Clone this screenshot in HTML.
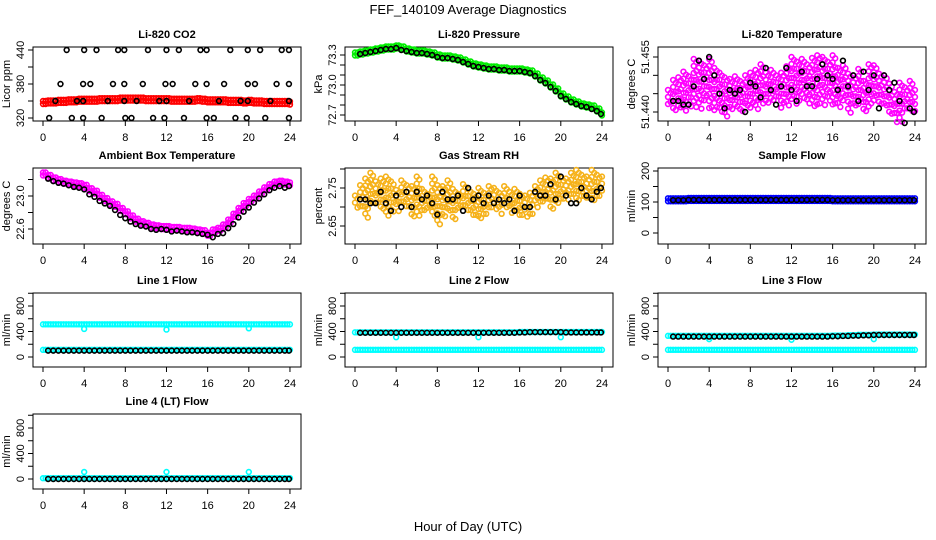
<!DOCTYPE html>
<html><head><meta charset="utf-8"><style>
body{margin:0;background:#fff}
svg{display:block;font-family:"Liberation Sans",Arial,sans-serif}
</style></head><body>
<svg id="chart" width="936" height="540" viewBox="0 0 936 540" xmlns="http://www.w3.org/2000/svg">
<rect width="936" height="540" fill="#fff"/>
<text x="468" y="14" font-size="13" text-anchor="middle">FEF_140109  Average Diagnostics</text>
<text x="468" y="531" font-size="13" text-anchor="middle">Hour of Day (UTC)</text>
</svg>
<script>
// ---- data ----
const xTicks = [0,4,8,12,16,20,24];
const hours = [0,0.5,1,1.5,2,2.5,3,3.5,4,4.5,5,5.5,6,6.5,7,7.5,8,8.5,9,9.5,10,10.5,11,11.5,12,12.5,13,13.5,14,14.5,15,15.5,16,16.5,17,17.5,18,18.5,19,19.5,20,20.5,21,21.5,22,22.5,23,23.5,24];
const blackHours = [0.5,1,1.5,2,2.5,3,3.5,4,4.5,5,5.5,6,6.5,7,7.5,8,8.5,9,9.5,10,10.5,11,11.5,12,12.5,13,13.5,14,14.5,15,15.5,16,16.5,17,17.5,18,18.5,19,19.5,20,20.5,21,21.5,22,22.5,23,23.5,23.9];

const co2Red = [347,348,348,349,349,350,350,351,351,351,351,352,352,352,352,353,353,353,353,353,352,352,352,352,352,351,351,351,351,351,352,351,350,350,350,350,349,349,349,348,349,348,348,347,347,347,347,347,346];
const co2BlackHours = [2.3,4.0,5.2,7.3,7.9,10.2,12.0,13.2,15.3,15.9,18.2,19.9,21.1,23.2,23.9, 1.7,3.9,4.6,6.8,7.9,9.7,11.9,12.6,14.8,15.9,17.6,19.9,20.6,22.7,23.9, 1.2,3.3,3.9,6.3,7.9,9.1,11.3,12.0,14.2,17.1,19.2,19.9,22.1,23.9, 0.6,2.8,3.9,5.7,8.0,8.6,10.7,11.8,13.7,15.9,16.6,18.7,19.8,21.6,23.9];
const co2BlackVals = [440,440,440,440,440,440,440,440,440,440,440,440,440,440,440, 380,380,380,380,380,380,380,380,380,380,380,380,380,380,380, 350,350,350,350,350,350,350,350,350,350,350,350,350,350, 320,320,320,320,320,320,320,320,320,320,320,320,320,320,320];

const presGreen = [73.30,73.31,73.32,73.33,73.34,73.35,73.36,73.36,73.37,73.36,73.34,73.33,73.32,73.32,73.31,73.30,73.28,73.27,73.27,73.26,73.25,73.23,73.21,73.19,73.18,73.17,73.16,73.16,73.15,73.15,73.14,73.14,73.14,73.13,73.12,73.09,73.05,73.02,72.98,72.94,72.89,72.86,72.83,72.81,72.79,72.78,72.77,72.74,72.70];
const presBlack = [73.31,73.32,73.33,73.34,73.35,73.36,73.36,73.37,73.35,73.34,73.33,73.32,73.32,73.31,73.30,73.28,73.27,73.27,73.26,73.25,73.23,73.21,73.19,73.18,73.17,73.16,73.16,73.15,73.15,73.14,73.14,73.14,73.13,73.12,73.09,73.05,73.02,72.98,72.94,72.89,72.86,72.83,72.81,72.79,72.78,72.76,72.74,72.71];

const tempMagLo = [51.442,51.440,51.441,51.440,51.441,51.442,51.441,51.443,51.441,51.440,51.440,51.439,51.440,51.441,51.440,51.442,51.441,51.441,51.442,51.443,51.442,51.443,51.441,51.442,51.443,51.442,51.444,51.443,51.442,51.441,51.442,51.443,51.441,51.442,51.443,51.440,51.441,51.442,51.440,51.441,51.443,51.441,51.442,51.439,51.438,51.438,51.440,51.441,51.440];
const tempMagHi = [51.446,51.449,51.450,51.451,51.450,51.455,51.454,51.453,51.455,51.452,51.451,51.450,51.449,51.450,51.449,51.450,51.451,51.452,51.453,51.451,51.452,51.450,51.451,51.453,51.455,51.454,51.455,51.453,51.455,51.456,51.455,51.454,51.456,51.452,51.453,51.451,51.450,51.452,51.449,51.453,51.453,51.451,51.450,51.448,51.446,51.448,51.447,51.449,51.446];
const tempBlack = [51.443,51.443,51.442,51.442,51.447,51.454,51.449,51.455,51.450,51.445,51.441,51.446,51.445,51.446,51.440,51.448,51.447,51.444,51.452,51.446,51.442,51.447,51.452,51.446,51.443,51.451,51.447,51.447,51.449,51.453,51.450,51.449,51.446,51.454,51.447,51.450,51.443,51.451,51.446,51.450,51.441,51.450,51.446,51.448,51.443,51.437,51.441,51.440];

const ambMag = [23.25,23.22,23.19,23.17,23.15,23.14,23.13,23.12,23.10,23.06,23.03,22.98,22.94,22.90,22.87,22.82,22.78,22.73,22.69,22.66,22.64,22.62,22.61,22.60,22.60,22.59,22.59,22.58,22.58,22.57,22.56,22.55,22.52,22.56,22.58,22.62,22.68,22.75,22.82,22.88,22.93,22.97,23.02,23.07,23.11,23.14,23.15,23.14,23.13];
const ambBlack = [23.21,23.18,23.16,23.15,23.13,23.11,23.10,23.08,23.02,22.99,22.94,22.91,22.88,22.83,22.77,22.73,22.69,22.66,22.64,22.63,22.60,22.59,22.60,22.59,22.57,22.58,22.57,22.56,22.56,22.55,22.54,22.53,22.50,22.54,22.55,22.61,22.66,22.74,22.81,22.86,22.92,22.97,23.02,23.07,23.10,23.12,23.10,23.12];

const rhLo = [2.70,2.69,2.68,2.70,2.70,2.69,2.68,2.69,2.69,2.70,2.69,2.68,2.68,2.69,2.69,2.68,2.66,2.67,2.68,2.67,2.69,2.70,2.69,2.67,2.66,2.68,2.69,2.70,2.69,2.70,2.69,2.68,2.67,2.68,2.67,2.70,2.71,2.71,2.70,2.70,2.71,2.72,2.72,2.71,2.72,2.72,2.71,2.72,2.73];
const rhHi = [2.73,2.76,2.78,2.79,2.77,2.78,2.78,2.77,2.75,2.77,2.76,2.76,2.78,2.75,2.74,2.78,2.76,2.76,2.77,2.75,2.74,2.76,2.75,2.74,2.75,2.74,2.76,2.75,2.74,2.76,2.74,2.75,2.74,2.73,2.74,2.76,2.77,2.78,2.78,2.79,2.78,2.78,2.79,2.80,2.79,2.78,2.80,2.79,2.78];
const rhBlack = [2.72,2.72,2.71,2.71,2.74,2.71,2.69,2.73,2.70,2.74,2.70,2.74,2.72,2.73,2.71,2.68,2.74,2.72,2.72,2.73,2.69,2.75,2.72,2.73,2.71,2.73,2.71,2.72,2.71,2.72,2.69,2.73,2.70,2.70,2.74,2.73,2.73,2.76,2.72,2.78,2.73,2.71,2.71,2.75,2.73,2.72,2.74,2.75];

const sampleBlue = [106,106,106,106,107,107,107,107,107,107,107,107,107,107,107,107,107,107,107,107,107,107,107,107,107,107,107,107,107,107,107,107,106,106,106,106,106,106,106,106,106,106,106,106,106,106,106,106,106];
const sampleBlack = [106,106,106,107,107,107,107,107,107,107,107,107,107,107,107,107,107,107,107,107,107,107,107,107,107,107,107,107,107,107,107,106,106,106,106,106,106,106,106,106,106,106,106,106,106,106,106,106];

const line1CyanHigh = [500,500,500,500,500,500,500,500,500,500,500,500,500,500,500,500,500,500,500,500,500,500,500,500,500,500,500,500,500,500,500,500,500,500,500,500,500,500,500,500,500,500,500,500,500,500,500,500,500];
const line1CyanLow = [100,100,100,100,100,100,100,100,100,100,100,100,100,100,100,100,100,100,100,100,100,100,100,100,100,100,100,100,100,100,100,100,100,100,100,100,100,100,100,100,100,100,100,100,100,100,100,100,100];
const line1Black = [100,100,100,100,100,100,100,100,100,100,100,100,100,100,100,100,100,100,100,100,100,100,100,100,100,100,100,100,100,100,100,100,100,100,100,100,100,100,100,100,100,100,100,100,100,100,100,100];
const spikeHours = [4,12,20];
const line1Spikes = [440,430,450];

const line2CyanHigh = [375,375,375,375,375,375,375,375,375,375,375,375,375,375,375,375,375,375,375,375,375,375,375,375,375,375,375,375,375,375,375,375,380,380,380,380,380,380,380,380,380,380,380,380,380,380,380,380,380];
const line2CyanLow = [100,100,100,100,100,100,100,100,100,100,100,100,100,100,100,100,100,100,100,100,100,100,100,100,100,100,100,100,100,100,100,100,100,100,100,100,100,100,100,100,100,100,100,100,100,100,100,100,100];
const line2Black = [380,380,380,380,380,380,380,380,380,380,380,380,380,380,380,380,380,380,380,380,380,380,380,380,380,380,380,380,380,380,380,385,385,390,390,390,390,390,390,390,385,385,385,385,385,385,385,385];
const line2Spikes = [310,310,310];

const line3CyanHigh = [320,320,320,320,320,320,320,320,320,320,320,320,320,320,320,320,320,320,320,320,320,320,320,320,320,320,320,320,320,320,320,320,325,325,325,330,330,335,335,335,340,340,340,340,340,340,340,340,340];
const line3CyanLow = [100,100,100,100,100,100,100,100,100,100,100,100,100,100,100,100,100,100,100,100,100,100,100,100,100,100,100,100,100,100,100,100,100,100,100,100,100,100,100,100,100,100,100,100,100,100,100,100,100];
const line3Black = [320,320,320,320,320,320,320,320,320,320,320,320,320,320,320,320,320,320,320,320,320,320,320,320,320,320,320,320,320,320,320,325,325,330,330,335,335,340,340,345,345,345,345,345,345,345,345,345];
const line3Spikes = [280,270,280];

const line4Cyan = [0,0,0,0,0,0,0,0,0,0,0,0,0,0,0,0,0,0,0,0,0,0,0,0,0,0,0,0,0,0,0,0,0,0,0,0,0,0,0,0,0,0,0,0,0,0,0,0,0];
const line4Black = [0,0,0,0,0,0,0,0,0,0,0,0,0,0,0,0,0,0,0,0,0,0,0,0,0,0,0,0,0,0,0,0,0,0,0,0,0,0,0,0,0,0,0,0,0,0,0,0];
const line4Spikes = [110,110,110];

// ---- layout ----
const NS = 'http://www.w3.org/2000/svg';
const svg = document.getElementById('chart');
const colX0 = [43,355,668];
const pxPerHour = 10.29;
const rowTop = [47,168,293,414];
const rowBot = [121,244,367,489];

function mk(tag, attrs, parent){
  const e = document.createElementNS(NS, tag);
  for (const k in attrs) e.setAttribute(k, attrs[k]);
  (parent||svg).appendChild(e);
  return e;
}

function panel(o){
  const g = mk('g', {});
  
  
  const x0 = colX0[o.col];
  const xs = h => x0 + h * pxPerHour;
  const ys = v => o.yA[1] + (v - o.yA[0]) * (o.yB[1] - o.yA[1]) / (o.yB[0] - o.yA[0]);
  const L = x0 - 10, R = x0 + 258, T = rowTop[o.row], B = rowBot[o.row];
  const t = mk('text', {x:(L+R)/2, y:T-9, 'font-size':11, 'font-weight':'bold', 'text-anchor':'middle'}, g);
  
  
  t.textContent = o.title;
  const box = mk('rect', {x:L, y:T, width:R-L, height:B-T, fill:'none', stroke:'#000', 'stroke-width':1}, g);
  
  
  const plot = mk('g', {}, g);
  
  
  xTicks.forEach(v => {
    const x = xs(v);
    const tk = mk('line', {x1:x, x2:x, y1:B, y2:B+5, stroke:'#000'}, g);
    
    
    const lb = mk('text', {x:x, y:B+20, 'font-size':11, 'text-anchor':'middle'}, g);
    
    
    lb.textContent = v;
  });
  o.yTicks.forEach(v => {
    const y = ys(v);
    const tk = mk('line', {x1:L-5, x2:L, y1:y, y2:y, stroke:'#000'}, g);
    
    
  });
  o.yLabels.forEach(v => {
    const y = ys(v);
    const lb = mk('text', {x:0, y:0, 'font-size':11, 'text-anchor':'middle', transform:`translate(${L-9},${y}) rotate(-90)`}, g);
    
    
    lb.textContent = o.yFmt ? o.yFmt(v) : v;
  });
  const yl = mk('text', {x:0, y:0, 'font-size':11, 'text-anchor':'middle', transform:`translate(${L-23},${(T+B)/2}) rotate(-90)`}, g);
  
  
  yl.textContent = o.ylab;
  return {xs, ys, plot};
}

function pt(p, x, y, color, name){
  const c = mk('circle', {cx:x, cy:y, r:2.4, fill:'none', stroke:color, 'stroke-width':1.6}, p.plot);
  
  
}
function band(p, hrs, vals, spread, color, name){
  hrs.forEach((h, i) => {
    [0, 0.25].forEach(dh => {
      if (h + dh > 24) return;
      const y1 = p.ys(vals[i] - spread), y2 = p.ys(vals[i] + spread);
      const lo = Math.min(y1,y2), hi = Math.max(y1,y2);
      for (let y = lo; y <= hi + 0.01; y += 3) pt(p, p.xs(h + dh), y, color, name);
    });
  });
}
function range(p, hrs, lo, hi, color, name){
  hrs.forEach((h, i) => {
    [0, 0.25].forEach(dh => {
      if (h + dh > 24) return;
      const a = p.ys(lo[i]), b = p.ys(hi[i]);
      const top = Math.min(a,b), bot = Math.max(a,b);
      const step = dh ? 9 : 7;
      for (let y = top + (i % 3); y <= bot + 0.01; y += step) pt(p, p.xs(h + dh), y + (dh ? 3 : 0), color, name);
    });
  });
}
function series(p, hrs, vals, color, name){
  hrs.forEach((h, i) => pt(p, p.xs(h), p.ys(vals[i]), color, name));
}

let p;
p = panel({name:'co2-panel', col:0, row:0, title:'Li-820 CO2', ylab:'Licor ppm', yA:[320,118], yB:[440,50], yTicks:[320,350,380,410,440], yLabels:[320,380,440]});
band(p, hours, co2Red, 3, '#ff0000', 'co2-point');
series(p, co2BlackHours, co2BlackVals, '#000', 'co2-avg-point');

p = panel({name:'pressure-panel', col:1, row:0, title:'Li-820 Pressure', ylab:'kPa', yA:[72.7,115], yB:[73.3,55], yTicks:[72.7,72.8,72.9,73.0,73.1,73.2,73.3], yLabels:[72.7,73.0,73.3], yFmt:v=>v.toFixed(1)});
band(p, hours, presGreen, 0.025, '#00ee00', 'pressure-point');
series(p, blackHours, presBlack, '#000', 'pressure-avg-point');

p = panel({name:'li820-temp-panel', col:2, row:0, title:'Li-820 Temperature', ylab:'degrees C', yA:[51.440,112], yB:[51.455,57], yTicks:[51.440,51.445,51.450,51.455], yLabels:[51.440,51.455], yFmt:v=>v.toFixed(3)});
range(p, hours, tempMagLo, tempMagHi, '#ff00ff', 'temp-point');
series(p, blackHours, tempBlack, '#000', 'temp-avg-point');

p = panel({name:'ambient-temp-panel', col:0, row:1, title:'Ambient Box Temperature', ylab:'degrees C', yA:[22.6,229], yB:[23.0,196], yTicks:[22.6,22.8,23.0,23.2], yLabels:[22.6,23.0], yFmt:v=>v.toFixed(1)});
band(p, hours, ambMag, 0.035, '#ff00ff', 'ambient-point');
series(p, blackHours, ambBlack, '#000', 'ambient-avg-point');

p = panel({name:'rh-panel', col:1, row:1, title:'Gas Stream RH', ylab:'percent', yA:[2.65,226], yB:[2.75,188], yTicks:[2.65,2.70,2.75,2.80], yLabels:[2.65,2.75], yFmt:v=>v.toFixed(2)});
range(p, hours, rhLo, rhHi, '#f6b21a', 'rh-point');
series(p, blackHours, rhBlack, '#000', 'rh-avg-point');

p = panel({name:'sample-flow-panel', col:2, row:1, title:'Sample Flow', ylab:'ml/min', yA:[0,233], yB:[200,171], yTicks:[0,50,100,150,200], yLabels:[0,100,200]});
band(p, hours, sampleBlue, 6, '#0000ff', 'sample-flow-point');
series(p, blackHours, sampleBlack, '#000', 'sample-flow-avg-point');

const flowTicks = [0,200,400,600,800,1000], flowLabels = [0,400,800];
const flowPanels = [
  {name:'line1-flow-panel', col:0, row:2, title:'Line 1 Flow', hi:line1CyanHigh, lo:line1CyanLow, bl:line1Black, sp:line1Spikes},
  {name:'line2-flow-panel', col:1, row:2, title:'Line 2 Flow', hi:line2CyanHigh, lo:line2CyanLow, bl:line2Black, sp:line2Spikes},
  {name:'line3-flow-panel', col:2, row:2, title:'Line 3 Flow', hi:line3CyanHigh, lo:line3CyanLow, bl:line3Black, sp:line3Spikes},
  {name:'line4-flow-panel', col:0, row:3, title:'Line 4 (LT) Flow', hi:line4Cyan, lo:null, bl:line4Black, sp:line4Spikes}
];
flowPanels.forEach(f => {
  const B = rowBot[f.row];
  const p = panel({name:f.name, col:f.col, row:f.row, title:f.title, ylab:'ml/min', yA:[0,B-10], yB:[800,B-61], yTicks:flowTicks, yLabels:flowLabels});
  band(p, hours, f.hi, 12, '#00ffff', 'cyan-flow-point');
  if (f.lo) band(p, hours, f.lo, 12, '#00ffff', 'cyan-flow-point');
  series(p, spikeHours, f.sp, '#00ffff', 'cyan-flow-spike');
  series(p, blackHours, f.bl, '#000', 'flow-avg-point');
});
</script>
</body></html>
